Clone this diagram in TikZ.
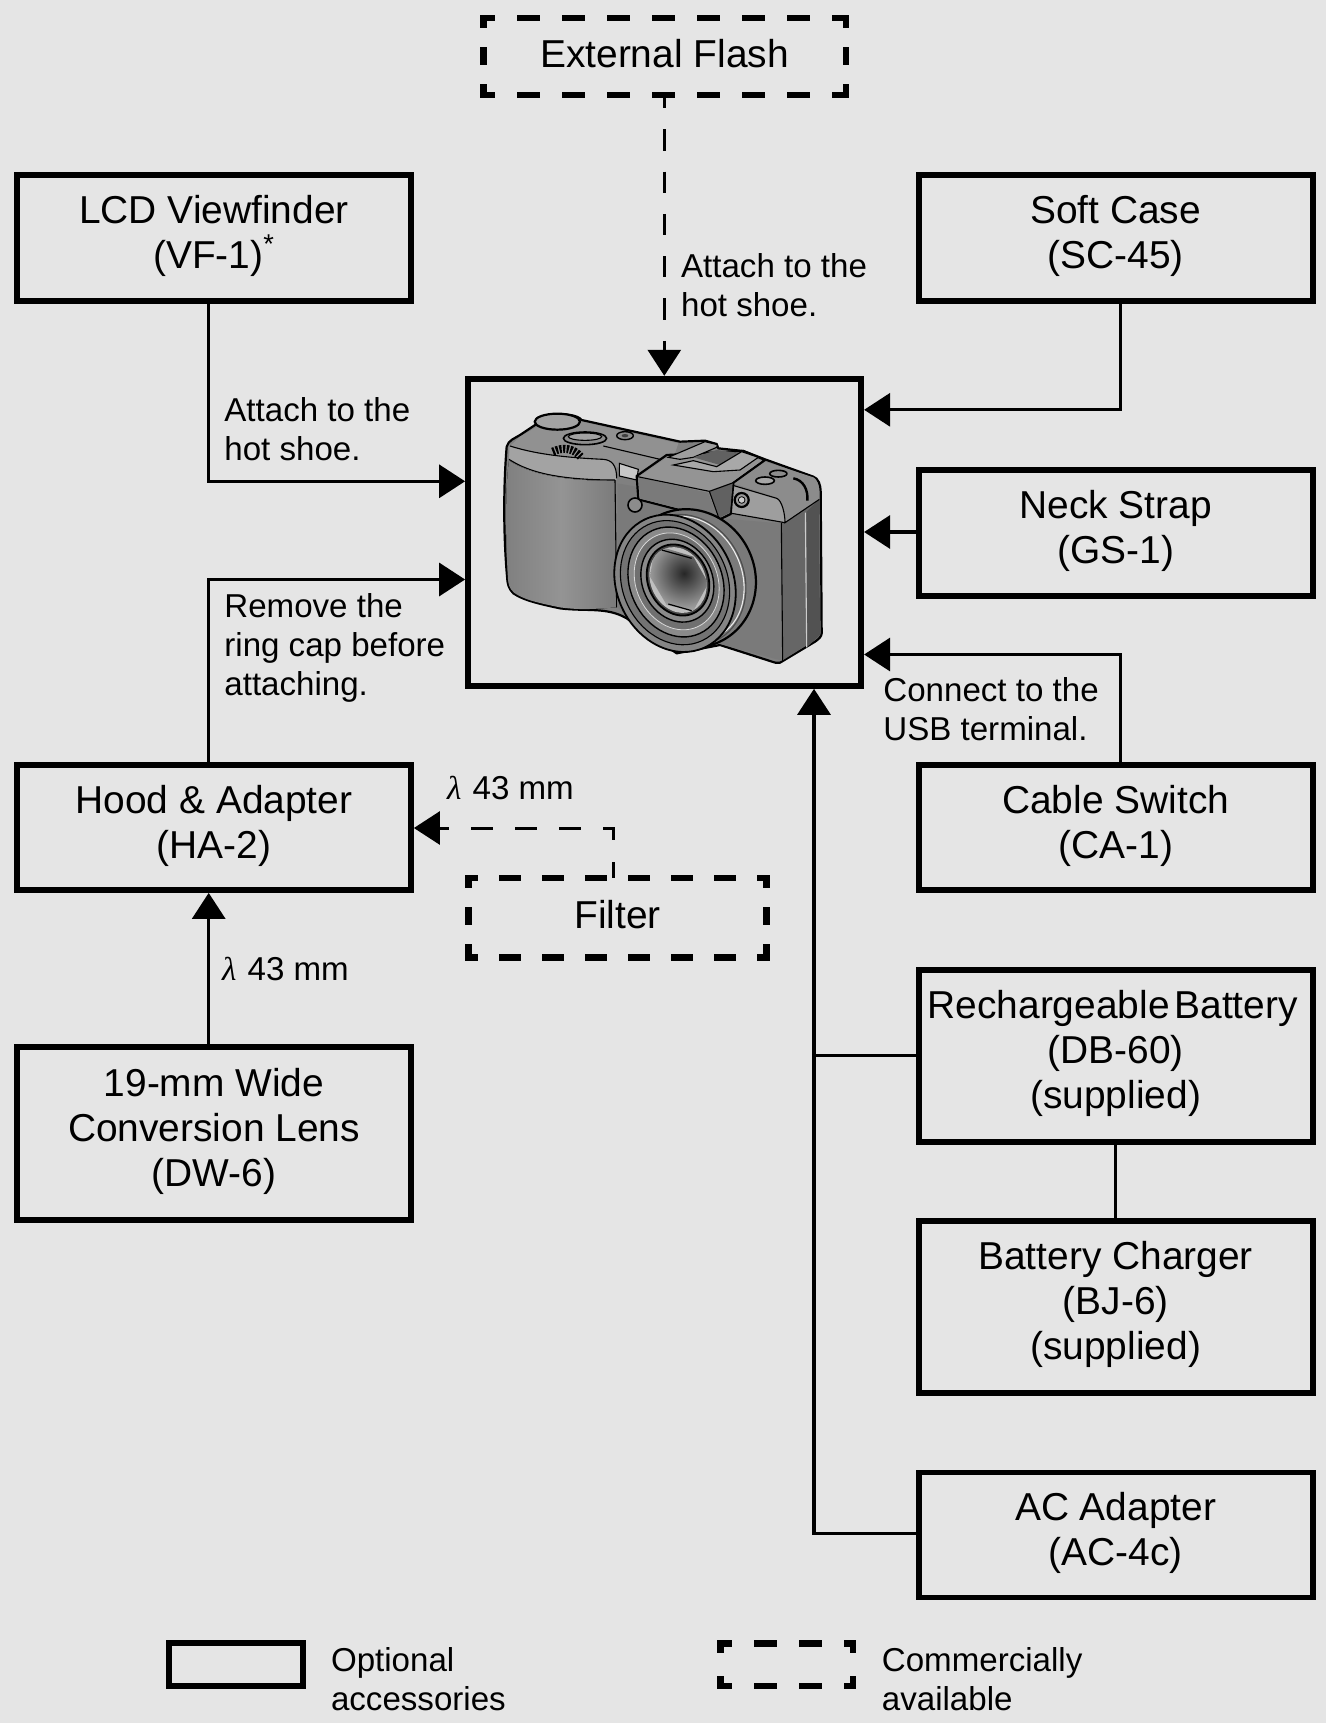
\documentclass[tikz,border=0pt]{standalone}
\usepackage{fontspec}
\setmainfont{Liberation Sans}
\newfontfamily\lamf{Liberation Serif}
\usetikzlibrary{arrows.meta}
\definecolor{bg}{gray}{0.898}
\tikzset{
  big/.style={font=\fontsize{19.45}{22.6}\selectfont},
  bigt/.style={font=\fontsize{19.45}{22.4}\selectfont},
  small/.style={font=\fontsize{16.55}{19.6}\selectfont},
  bx/.style 2 args={draw=black,line width=2.9pt,minimum width=#1*0.5pt,minimum height=#2*0.5pt,inner sep=0pt,align=center,big,text depth=5.9pt},
  dn/.style 2 args={minimum width=#1*0.5pt,minimum height=#2*0.5pt,inner sep=0pt,outer sep=0pt,align=center,big,text depth=3.3pt},
  dbase/.style={line width=3.25pt,line cap=rect},
  dh/.style={dbase,dash pattern=on 8.25pt off 14.25pt,dash phase=4pt},
  dhf/.style={dbase,dash pattern=on 7.75pt off 13.8pt,dash phase=4.85pt},
  dv/.style={dbase,dash pattern=on 5.75pt off 12.75pt,dash phase=2.5pt},
  dvl/.style={dbase,dash pattern=on 3.25pt off 14.75pt},
  lab/.style={inner sep=0pt,anchor=north west,align=left,small},
  lams/.style={inner sep=0pt,anchor=base west,small},
  conn/.style={line width=1.65pt,-{Triangle[length=13pt,width=16.5pt]}},
  plain/.style={line width=1.65pt},
  dconn/.style={line width=1.5pt,-{Triangle[length=13pt,width=16.5pt]}},
  ol/.style={draw=black,line width=1.1pt,line join=round},
  thin/.style={draw=black,line width=0.55pt},
}
\newcommand{\lam}{{\lamf\itshape λ}}
\begin{document}
\begin{tikzpicture}[x=0.5pt,y=-0.5pt]
\fill[bg] (0,0) rectangle (1326,1723);
\useasboundingbox (0,0) rectangle (1326,1723);
% solid boxes
\node[bx={394}{126}] (lcd) at (214,238) {LCD Viewfinder\\(VF-1)\textsuperscript{*}};
\node[bx={394}{126}] (soft) at (1115.7,238) {Soft Case\\(SC-45)};
\node[bx={394}{126}] (neck) at (1115.7,533) {Neck Strap\\(GS-1)};
\node[bx={394}{125}] (cable) at (1115.7,827.5) {Cable Switch\\(CA-1)};
\node[bx={394}{172},bigt,text depth=6.4pt] (battery) at (1115.7,1056) {\hspace{-3pt}Rechargeable\hskip2.4pt Battery\\(DB-60)\\(supplied)};
\node[bx={394}{172},bigt,text depth=6.4pt] (charger) at (1115.7,1307) {Battery Charger\\(BJ-6)\\(supplied)};
\node[bx={394}{125}] (acad) at (1115.7,1535) {AC Adapter\\(AC-4c)};
\node[bx={394}{125}] (hood) at (214,827.5) {Hood \& Adapter\\(HA-2)};
\node[bx={394}{173}] (wide) at (214,1133.5) {19-mm Wide\\Conversion Lens\\(DW-6)};
\node[draw=black,line width=3pt,minimum width=196.5pt,minimum height=153.5pt,inner sep=0pt] (cam) at (664.6,532.3) {};
\node[draw=black,line width=2.9pt,minimum width=67pt,minimum height=21.5pt,inner sep=0pt] (legopt) at (236,1664.5) {};
% dashed boxes
\node[dn={362.5}{76.75}] (flash) at (664.5,56.6) {External Flash};
\node[dn={298}{79.5}] (filter) at (617.5,917.5) {Filter};
\node[dn={132.5}{42.5}] (legcom) at (786.5,1664.5) {};
\foreach \n/\h/\v in {flash/dh/dv,filter/dhf/dv,legcom/dh/dvl}{
  \draw[\h] (\n.north west) -- (\n.north east);
  \draw[\h] (\n.south west) -- (\n.south east);
  \draw[\v] (\n.north west) -- (\n.south west);
  \draw[\v] (\n.north east) -- (\n.south east);
}
% connectors
\coordinate (bLcd) at (208.7,481.3);
\coordinate (bHood) at (208.7,579.5);
\coordinate (bSoft) at (1120.5,409.8);
\coordinate (bNeck) at (1000,532);
\coordinate (bCable) at (1120.5,654.5);
\coordinate (bMain) at (814,1055.5);
\coordinate (bAc) at (814,1533.7);
\coordinate (bFlash) at (664.3,300);
\coordinate (bFilter) at (613,828);
\coordinate (bLink) at (1115.5,1180);
\draw[conn] (bLcd |- lcd.south) -- (bLcd) -- (bLcd -| cam.west);
\draw[conn] (bHood |- hood.north) -- (bHood) -- (bHood -| cam.west);
\draw[conn] (bHood |- wide.north) -- (bHood |- hood.south);
\draw[conn] (bSoft |- soft.south) -- (bSoft) -- (bSoft -| cam.east);
\draw[conn] (bNeck -| neck.west) -- (bNeck -| cam.east);
\draw[conn] (bCable |- cable.north) -- (bCable) -- (bCable -| cam.east);
\draw[conn] (bAc -| acad.west) -- (bAc) -- (bAc |- cam.south);
\draw[plain] (bMain -| battery.west) -- (bMain);
\draw[plain] (bLink |- battery.south) -- (bLink |- charger.north);
\draw[dconn,dash pattern=on 10.65pt off 10.5pt,dash phase=4pt] (bFlash |- flash.south) -- (bFlash |- cam.north);
\draw[dconn,dash pattern=on 11pt off 11pt,dash phase=3pt] (bFilter |- filter.north) -- (bFilter) -- (bFilter -| hood.east);
% labels
\node[lab] (t1) at (680.7,252.7) {Attach to the\\hot shoe.};
\node[lab] (t2) at (224,396.7) {Attach to the\\hot shoe.};
\node[lab] (t3) at (224,593) {Remove the\\ring cap before\\attaching.};
\node[lab] (t4) at (883,677) {Connect to the\\USB terminal.};
\node[lams] (t5) at (446.7,799.3) {\lam\hskip5.6pt 43 mm};
\node[lams] (t6) at (221.7,980) {\lam\hskip5.6pt 43 mm};
\node[lab] (t7) at (330.6,1647) {Optional\\accessories};
\node[lab] (t8) at (881.5,1647) {Commercially\\available};
% camera
\begin{scope}[shift={(460,370)},x=0.16667pt,y=-0.16667pt]
 % silhouette
 \fill[ol,fill=gray] (140,230) .. controls (145,210) and (165,205) .. (180,195) -- (225,165)
  .. controls (230,135) and (340,120) .. (365,150) -- (660,215) -- (735,212) -- (770,222) -- (775,235) -- (850,243) -- (915,268) -- (1060,320)
  .. controls (1075,325) and (1082,345) .. (1082,365) -- (1085,790) .. controls (1085,800) and (1075,808) .. (1065,815)
  -- (960,878) .. controls (950,880) and (945,878) .. (930,873) -- (780,825) -- (650,850) -- (500,745)
  .. controls (440,710) and (380,725) .. (300,715) .. controls (230,700) and (190,690) .. (160,670)
  .. controls (145,655) and (143,640) .. (142,630) .. controls (130,500) and (130,350) .. (140,230) -- cycle;
 % top plate
 \fill[black!43!white] (146,232) -- (180,200) -- (228,172) -- (365,155) -- (655,220) -- (640,265) -- (535,320) -- (470,290) -- (465,330) .. controls (380,330) and (260,330) .. (200,300) -- (147,268) -- cycle;
 \fill[black!36!white] (150,228) .. controls (220,250) and (300,262) .. (430,268) .. controls (455,270) and (470,285) .. (470,330) .. controls (380,330) and (260,330) .. (200,300) -- (147,268) -- cycle;
 \draw[thin] (147,268) .. controls (190,295) and (260,330) .. (465,330);
 \draw[thin] (150,228) .. controls (220,250) and (300,262) .. (430,268) .. controls (455,270) and (470,285) .. (470,325);
 \draw[thin] (430,228) -- (600,268);
 % grip front
 \fill[left color=black!50!white,right color=black!52!white,middle color=black!42!white] (147,272) .. controls (190,298) and (260,333) .. (465,333) -- (470,712) .. controls (420,715) and (370,722) .. (300,712) .. controls (230,698) and (190,688) .. (162,668) .. controls (147,655) and (145,640) .. (144,628) .. controls (136,500) and (136,350) .. (147,272) -- cycle;
 \draw[thin] (465,330) -- (470,712);
 % front right face
 \fill[black!52!white] (472,340) -- (530,350) -- (780,445) -- (962,460) -- (966,872) -- (780,822) -- (500,738) -- (472,712) -- cycle;
 % right side
 \fill[black!60!white] (966,458) -- (1077,388) -- (1080,795) -- (1062,812) -- (966,872) -- cycle;
 \fill[black!68!white] (1040,425) -- (1077,388) -- (1080,795) -- (1062,812) -- (1040,832) -- cycle;
 \draw[thin,draw=black!20!white] (1036,428) -- (1040,832);
 \draw[thin] (964,458) -- (968,874);
 % upper right
 \fill[black!38!white] (815,345) -- (950,385) .. controls (965,390) and (975,430) .. (975,458) -- (815,430) -- cycle;
 \fill[black!45!white] (915,275) -- (1060,322) .. controls (1075,330) and (1080,360) .. (1078,388) -- (975,458) .. controls (975,420) and (965,390) .. (950,382) -- (820,340) -- cycle;
 \draw[thin] (815,345) -- (950,385) .. controls (965,390) and (975,430) .. (975,458) -- (1078,388);
 \draw[thin] (815,430) -- (975,458);
 \fill[black!40!white,ol] (845,390) circle [radius=21];
 \fill[black!20!white,ol,line width=0.4pt] (845,390) circle [radius=10];
 \draw[ol,fill=black!35!white,line width=0.8pt] (915,332) ellipse [x radius=28,y radius=11];
 \draw[ol,fill=black!45!white,line width=0.8pt] (955,311) ellipse [x radius=26,y radius=10];
 \draw[black,line width=1.2pt] (1000,325) .. controls (1030,330) and (1045,360) .. (1042,392);
 % front lamp
 \fill[black!22!white] (478,280) -- (535,298) -- (530,330) -- (478,318) -- cycle;
 \draw[thin] (478,280) -- (535,298) -- (530,330) -- (478,318) -- cycle;
 % dial etc
 \draw[ol,fill=black!36!white] (292,155) ellipse [x radius=68,y radius=24];
 \draw[ol,fill=black!45!white,line width=0.8pt] (375,205) ellipse [x radius=65,y radius=19];
 \draw[thin,fill=black!36!white] (375,200) ellipse [x radius=50,y radius=11];
 \draw[ol,fill=black!45!white,line width=0.7pt] (495,197) ellipse [x radius=25,y radius=12];
 \fill[black!75!white] (495,197) ellipse [x radius=10,y radius=5];
 \draw[black,line width=4pt,dash pattern=on 1.1pt off 0.7pt] (278,245) .. controls (310,230) and (340,235) .. (362,260);
 % viewfinder on hot shoe
 \fill[black!45!white,ol] (530,318) -- (620,255) -- (850,243) -- (915,270) -- (820,338) -- (812,432) -- (775,450) -- (535,388) -- cycle;
 \fill[black!42!white] (538,320) -- (622,262) -- (842,252) -- (905,272) -- (818,335) -- (748,362) -- cycle;
 \fill[black!52!white] (535,322) -- (745,368) -- (775,445) -- (540,386) -- cycle;
 \fill[black!62!white] (748,366) -- (818,338) -- (810,428) -- (778,443) -- cycle;
 \draw[thin] (533,320) -- (748,364) -- (778,448);
 \draw[thin] (748,364) -- (820,338);
 % hot shoe rails
 \fill[black!38!white,thin,draw=black] (625,262) -- (735,215) -- (772,224) -- (770,232) -- (700,262) -- (660,268) -- cycle;
 \fill[black!62!white] (700,262) -- (770,240) -- (848,250) -- (780,285) -- cycle;
 \fill[black!34!white,thin,draw=black] (640,285) -- (700,272) -- (770,290) -- (845,245) -- (895,262) -- (840,300) -- (760,305) -- cycle;
 \draw[ol,fill=black!45!white,line width=0.8pt] (525,405) circle [radius=21];
 % lens barrel
 \draw[ol,fill=black!52!white] (690,625) ellipse [x radius=195,y radius=210,rotate=25];
 \draw[thin,draw=black!70!white] (680,630) ellipse [x radius=172,y radius=202,rotate=25];
 \draw[thin,draw=black!8!white] (690,625) ellipse [x radius=155,y radius=192,rotate=25];
 % front rings
 \draw[ol,fill=black!48!white,line width=0.9pt] (645,640) ellipse [x radius=175,y radius=212,rotate=25];
 \draw[thin,fill=black!55!white] (645,638) ellipse [x radius=157,y radius=192,rotate=25];
 \draw[thin,line width=0.7pt,fill=black!46!white] (648,636) ellipse [x radius=138,y radius=170,rotate=25];
 \draw[line width=0.4pt,draw=black!15!white,fill=black!56!white] (650,634) ellipse [x radius=122,y radius=150,rotate=25];
 \draw[thin,line width=0.7pt,fill=black!46!white] (652,632) ellipse [x radius=105,y radius=128,rotate=25];
 \draw[draw=black,line width=0.9pt,fill=black!72!white] (654,630) ellipse [x radius=90,y radius=110,rotate=25];
 % glass
 \begin{scope}
 \clip (654,630) ellipse [x radius=82,y radius=102,rotate=25];
 \fill[black!25!white] (540,520) rectangle (780,740);
 \clip (585,525) -- (700,560) -- (745,640) -- (700,722) -- (620,705) -- (570,620) -- cycle;
 \shade[inner color=black!85!white,outer color=black!30!white] (672,610) circle [radius=125];
 \end{scope}
 \draw[black,line width=0.6pt] (605,540) -- (695,565);
 \draw[black,line width=0.6pt] (625,702) -- (695,722);
\end{scope}
\end{tikzpicture}
\end{document}
